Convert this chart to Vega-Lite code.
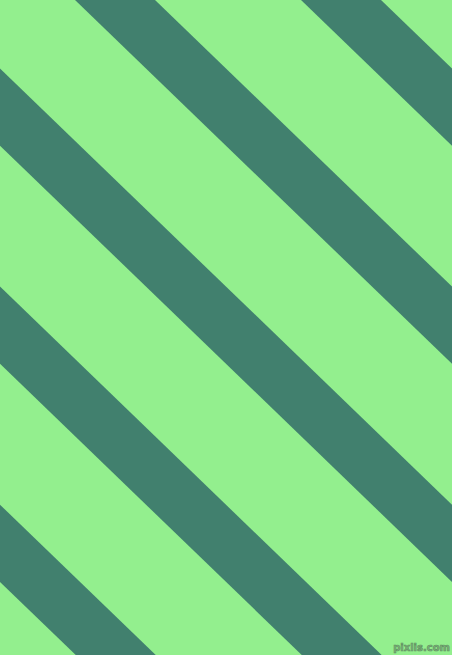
{
  "$schema": "https://vega.github.io/schema/vega-lite/v6.json",
  "width": 452,
  "height": 655,
  "autosize": {"type": "fit", "contains": "padding"},
  "padding": 0,
  "background": "#93EF8E",
  "view": {"stroke": null, "fill": "#93EF8E"},
  "data": {
    "values": [
      {"stripe": 1, "x": 0, "upper": -367.7, "lower": -290.5},
      {"stripe": 1, "x": 452, "upper": 68.5, "lower": 145.7},
      {"stripe": 2, "x": 0, "upper": -149.6, "lower": -72.4},
      {"stripe": 2, "x": 452, "upper": 286.6, "lower": 363.8},
      {"stripe": 3, "x": 0, "upper": 68.5, "lower": 145.7},
      {"stripe": 3, "x": 452, "upper": 504.7, "lower": 581.9},
      {"stripe": 4, "x": 0, "upper": 286.6, "lower": 363.8},
      {"stripe": 4, "x": 452, "upper": 722.9, "lower": 800},
      {"stripe": 5, "x": 0, "upper": 504.7, "lower": 581.9},
      {"stripe": 5, "x": 452, "upper": 940.9, "lower": 1018}
    ]
  },
  "layer": [
    {
      "mark": {"type": "area", "clip": true, "color": "#41806E", "interpolate": "linear", "opacity": 1},
      "encoding": {
        "x": {"field": "x", "type": "quantitative", "scale": {"domain": [0, 452], "nice": false, "zero": false}, "axis": null},
        "y": {"field": "upper", "type": "quantitative", "scale": {"domain": [0, 655], "nice": false, "zero": false, "reverse": true}, "axis": null},
        "y2": {"field": "lower"},
        "detail": {"field": "stripe"}
      }
    },
    {
      "data": {"values": [{"label": "pixlis.com"}]},
      "mark": {"type": "text", "align": "right", "baseline": "bottom", "font": "DejaVu Sans", "fontSize": 10, "fontWeight": "bold", "color": "#7DB47A", "stroke": "#5E8E60", "strokeWidth": 0.6, "dx": -2, "dy": -2},
      "encoding": {
        "x": {"datum": 452, "type": "quantitative"},
        "y": {"datum": 655, "type": "quantitative"},
        "text": {"field": "label"}
      }
    }
  ]
}
